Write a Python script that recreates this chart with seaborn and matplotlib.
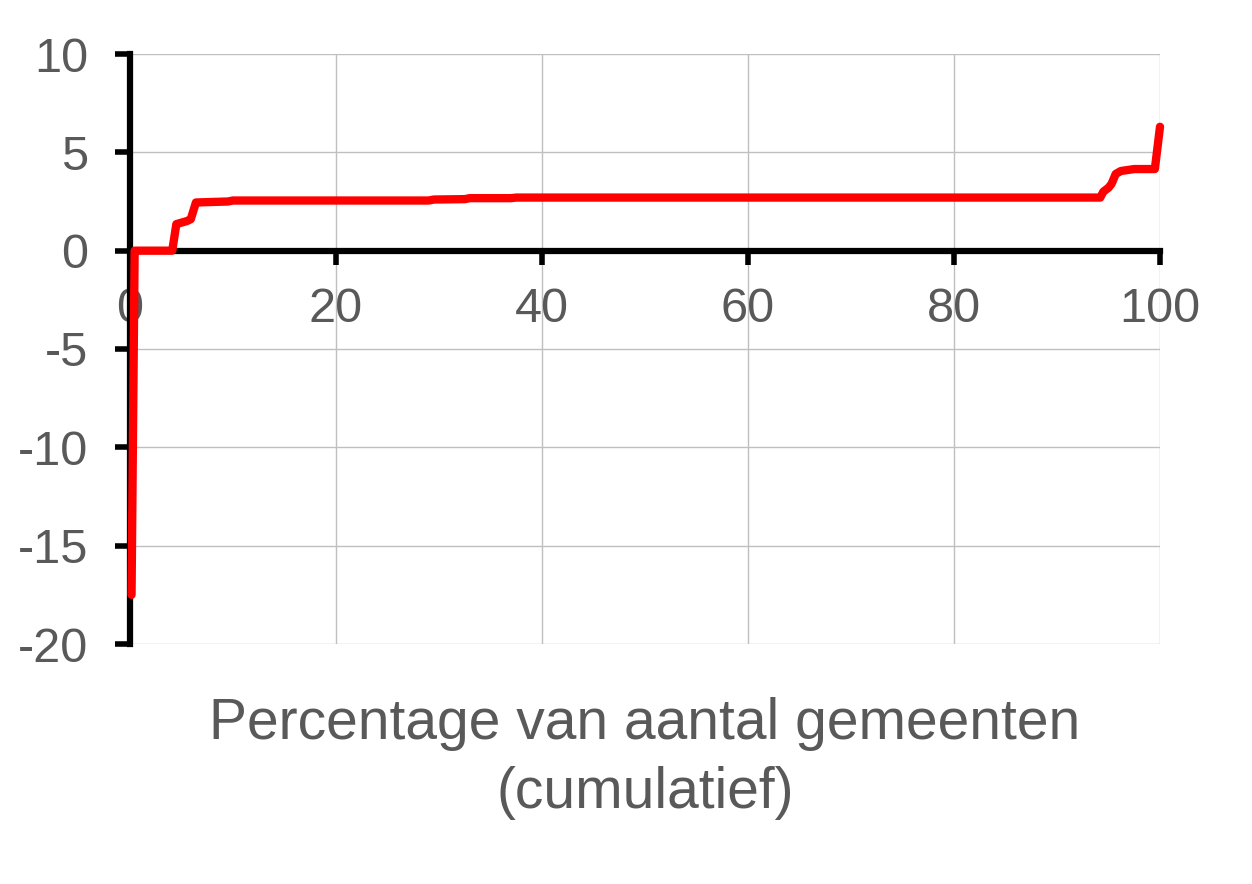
import matplotlib
matplotlib.use("Agg")
import matplotlib.pyplot as plt
import seaborn as sns
import pandas as pd

# Data (cumulative % of municipalities vs value)
pct = [0.15, 0.45, 0.6, 4.1, 4.5, 5.5, 5.9, 6.4, 9.5, 10.0, 29.0, 29.5, 32.5,
       33.0, 37.0, 37.5, 94.2, 94.5, 95.0, 95.3, 95.7, 96.2, 97.5, 99.5, 100.0]
value = [-17.5, 0.0, 0.0, 0.0, 1.35, 1.5, 1.6, 2.45, 2.5, 2.55, 2.55, 2.6, 2.62,
         2.67, 2.67, 2.7, 2.7, 3.0, 3.2, 3.4, 3.9, 4.05, 4.15, 4.15, 6.3]
xticks = [0, 20, 40, 60, 80, 100]
yticks = [-20, -15, -10, -5, 0, 5, 10]
xlabel = "Percentage van aantal gemeenten\n(cumulatief)"

df = pd.DataFrame({"pct": pct, "value": value})

sns.set_theme(style="white")
plt.rcParams['font.family'] = ['Liberation Sans', 'DejaVu Sans']

fig = plt.figure(figsize=(12.52, 8.84), dpi=100)
ax = fig.add_axes([130/1252, 1-644/884, 1030/1252, 590/884])

sns.lineplot(data=df, x="pct", y="value", ax=ax, color="#FF0000", linewidth=6.0,
             sort=False, estimator=None)
for ln in ax.lines:
    ln.set_solid_capstyle("round")
    ln.set_solid_joinstyle("round")
    ln.set_zorder(5)
    ln.set_clip_on(False)

ax.set_xlim(0, 100)
ax.set_ylim(-20, 10)
ax.set_xticks(xticks)
ax.set_yticks(yticks)
ax.set_xticklabels([str(t) for t in xticks])
ax.set_yticklabels([str(t) for t in yticks])

ax.grid(True, color="#BFBFBF", linewidth=1.0)
ax.set_axisbelow(True)

for s in ["top", "right"]:
    ax.spines[s].set_visible(False)
ax.spines["left"].set_color("black")
ax.spines["left"].set_linewidth(4.5)
ax.spines["bottom"].set_position(("data", 0))
ax.spines["bottom"].set_color("black")
ax.spines["bottom"].set_linewidth(4.5)
ax.spines["bottom"].set_zorder(4)
ax.spines["left"].set_zorder(4)

ax.tick_params(axis="x", direction="out", length=10, width=4.0, color="black",
               labelsize=35, labelcolor="#595959", pad=16, bottom=True)
ax.tick_params(axis="y", direction="out", length=11, width=4.0, color="black",
               labelsize=35, labelcolor="#595959", pad=19, left=True)

ax.set_xlabel(xlabel, fontsize=41, color="#595959", linespacing=1.36)
ax.set_ylabel("")
ax.xaxis.set_label_coords(0.5, -0.089)

fig.savefig("out.png", dpi=100, facecolor="white")
